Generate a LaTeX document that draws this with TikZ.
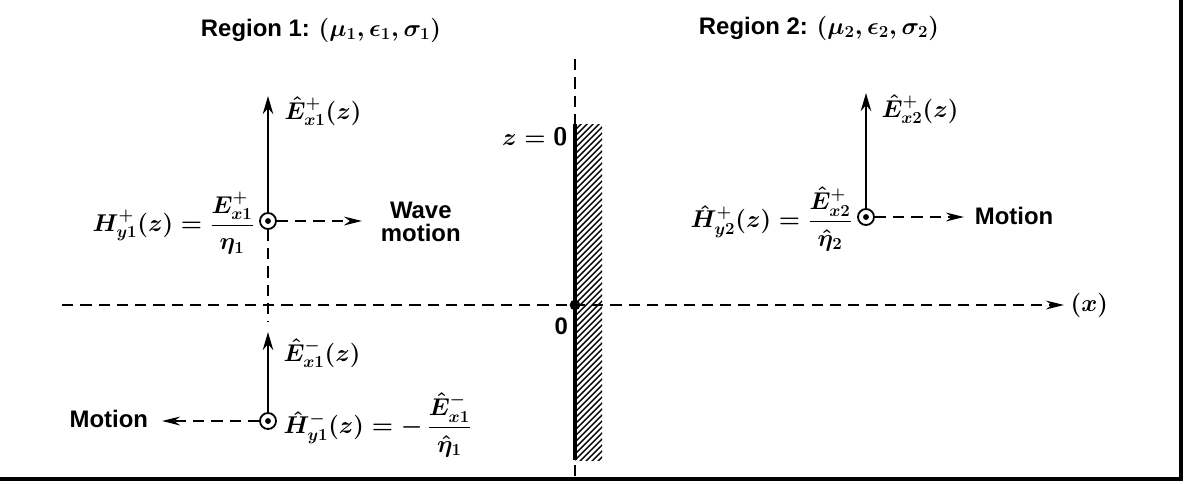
\documentclass[tikz,border=0pt]{standalone}
\usepackage{amsmath,amssymb}
\usepackage{fontspec}
\setmainfont{Liberation Sans}
\usepackage{tikz}
\usetikzlibrary{arrows.meta,positioning,calc}

\begin{document}
\begin{tikzpicture}[
    x=0.025cm, y=-0.025cm,
    title/.style={font=\fontsize{17}{19}\selectfont\bfseries\boldmath},
    txt/.style={font=\fontsize{17}{19}\selectfont\bfseries, align=center},
    mlabel/.style={font=\fontsize{18}{20}\selectfont\boldmath, inner sep=1pt},
    efield/.style={-{Stealth[length=4.5mm,width=2.6mm]}, line width=1.8pt},
    motion/.style={-{Stealth[length=4.5mm,width=2.2mm]}, line width=1.3pt,
                   dash pattern=on 8pt off 5pt},
    guide/.style={line width=1.3pt, dash pattern=on 8pt off 5pt},
    hcirc/.style={circle, draw, line width=1.3pt, minimum size=0.4cm,
                  inner sep=0pt, fill=white},
  ]
  \useasboundingbox (0,0) rectangle (1186,483);

  % Titel
  \node[title, anchor=west] (reg1) at (196,30) {Region 1: $(\mu_1, \epsilon_1, \sigma_1)$};
  \node[title, anchor=west] (reg2) at (694,28) {Region 2: $(\mu_2, \epsilon_2, \sigma_2)$};

  % Grenzflaeche
  \coordinate (wallTop) at (575,124);
  \coordinate (wallBot) at (575,460);
  \coordinate (zTop) at (575,59);
  \coordinate (zBot) at (575,478);
  \begin{scope}
    \clip (575,124) rectangle (602,460);
    \foreach \k in {0,6,...,380}
      \draw[line width=1pt] (575,124+\k) -- (607,92+\k);
  \end{scope}
  \draw[line width=2.6pt] (wallTop) -- (wallBot);
  \draw[guide] (zTop) -- (wallTop);
  \draw[guide] (575,465) -- (zBot);
  \node[mlabel, anchor=east] (zlab) at (569,137) {$z = \mathsf{0}$};

  % Achse
  \coordinate (axL) at (62,305);
  \coordinate (axR) at (1064,305);
  \coordinate (origin) at (575,305);
  \draw[motion] (axL) -- (axR);
  \node[mlabel, anchor=west] (xlab) at (1069,305) {$(x)$};
  \fill (origin) circle (3.8pt);
  \node[txt, anchor=east] (olab) at (573,326) {0};

  % Region 1, hinlaufende Welle
  \node[hcirc] (c1) at (268,221) {};
  \fill (c1.center) circle (2.1pt);
  \coordinate (e1tip) at (268,96);
  \draw[efield] (c1) -- (e1tip);
  \node[mlabel, anchor=west] (e1lab) at (283,111) {$\hat{E}^{+}_{x1}(z)$};
  \node[mlabel, anchor=east] (h1lab) at (256,223)
    {$H^{+}_{y1}(z) = \dfrac{E^{+}_{x1}}{\eta_1}$};
  \coordinate (m1tip) at (362,221);
  \draw[motion] (c1) -- (m1tip);
  \node[txt, anchor=west] (wave) at (376,222) {Wave\\[-3pt]motion};
  \coordinate (g1) at (268,322);
  \draw[guide] (c1) -- (g1);

  % Region 1, ruecklaufende Welle
  \node[hcirc] (c2) at (268,421) {};
  \fill (c2.center) circle (2.1pt);
  \coordinate (e2tip) at (268,332);
  \draw[efield] (c2) -- (e2tip);
  \node[mlabel, anchor=west] (e2lab) at (282,353) {$\hat{E}^{-}_{x1}(z)$};
  \node[mlabel, anchor=west] (h2lab) at (282,425)
    {$\hat{H}^{-}_{y1}(z) = -\,\dfrac{\hat{E}^{-}_{x1}}{\hat{\eta}_1}$};
  \coordinate (m2tip) at (162,421);
  \draw[motion] (c2) -- (m2tip);
  \node[txt, anchor=east] (mot2) at (153,419) {Motion};

  % Region 2, durchgehende Welle
  \node[hcirc] (c3) at (866,217) {};
  \fill (c3.center) circle (2.1pt);
  \coordinate (e3tip) at (866,93);
  \draw[efield] (c3) -- (e3tip);
  \node[mlabel, anchor=west] (e3lab) at (880,109) {$\hat{E}^{+}_{x2}(z)$};
  \node[mlabel, anchor=east] (h3lab) at (854,219)
    {$\hat{H}^{+}_{y2}(z) = \dfrac{\hat{E}^{+}_{x2}}{\hat{\eta}_2}$};
  \coordinate (m3tip) at (964,217);
  \draw[motion] (c3) -- (m3tip);
  \node[txt, anchor=west] (mot3) at (970,216) {Motion};

  % Rahmen
  \draw[line width=2.8pt] (1181,0) -- (1181,479) -- (0,479);
\end{tikzpicture}
\end{document}
